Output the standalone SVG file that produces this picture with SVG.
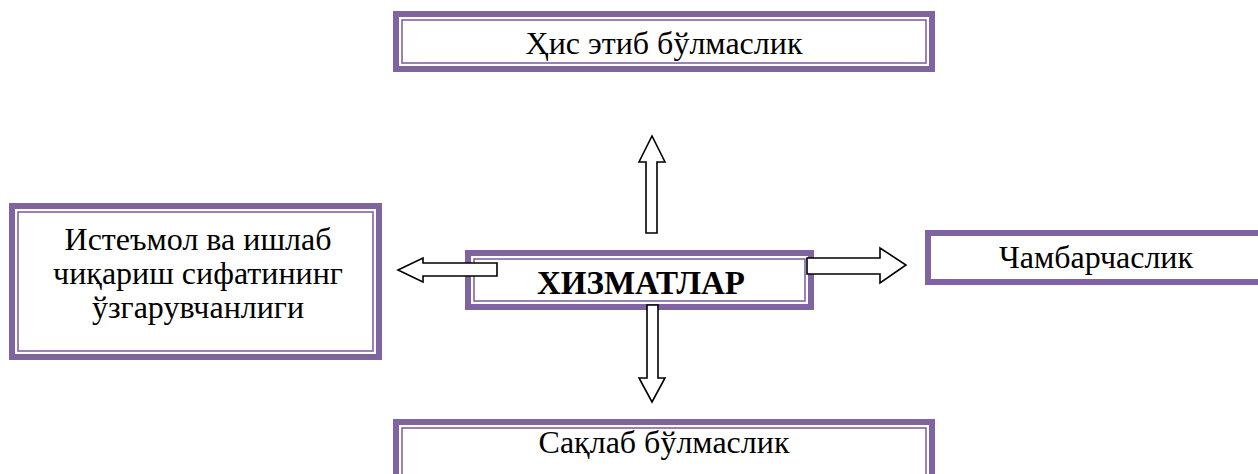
<svg xmlns="http://www.w3.org/2000/svg" width="1258" height="474" viewBox="0 0 1258 474">
<style>
.ob{fill:#fff;stroke:#8064A2;stroke-width:6}
.ib{fill:none;stroke:#8064A2;stroke-width:1.6}
.t{font-family:"Liberation Serif","Times New Roman",serif;font-size:32px;fill:#000;text-anchor:middle}
.b{font-weight:bold;font-size:33px}
.ar{fill:#fff;stroke:#000;stroke-width:1.6;stroke-linejoin:miter}
</style>
<rect width="1258" height="474" fill="#fff"/>
<g id="top">
<rect class="ob" x="396" y="14" width="536" height="55"/>
<rect class="ib" x="402" y="20" width="524" height="43"/>
<text class="t" x="664" y="54">Ҳис этиб бўлмаслик</text>
</g>
<g id="left">
<rect class="ob" x="12" y="206" width="367" height="151"/>
<rect class="ib" x="18" y="212" width="355" height="139"/>
<text class="t" x="198" y="250">Истеъмол ва ишлаб</text>
<text class="t" x="198" y="284">чиқариш сифатининг</text>
<text class="t" x="198" y="318">ўзгарувчанлиги</text>
</g>
<g id="right">
<rect class="ob" x="928" y="233" width="340" height="49"/>
<text class="t" x="1096" y="268">Чамбарчаслик</text>
</g>
<g id="bottom">
<rect class="ob" x="396" y="422" width="536" height="60"/>
<rect class="ib" x="402" y="428" width="524" height="60"/>
<text class="t" x="664" y="453">Сақлаб бўлмаслик</text>
</g>
<g id="center">
<rect class="ob" x="468" y="253" width="343" height="54"/>
<rect class="ib" x="474" y="259" width="331" height="42"/>
<text class="t b" x="641" y="294">ХИЗМАТЛАР</text>
</g>
<g id="connectors">
<polygon class="ar" points="646,233 646,162 639,162 652,136 665,162 657,162 657,233"/>
<polygon class="ar" points="647,305 658,305 658,378 665,378 652,402 639,378 647,378"/>
<polygon class="ar" points="497,263 497,276 423,276 423,282 398,270 423,258 423,263"/>
<polygon class="ar" points="807,258 880,258 880,248 906,265 880,283 880,274 807,274"/>
</g>
</svg>
